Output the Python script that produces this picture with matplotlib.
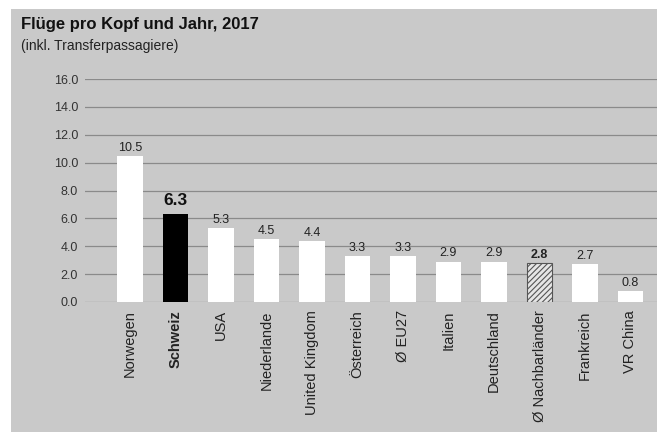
import matplotlib
matplotlib.use('Agg')
import matplotlib.pyplot as plt
from matplotlib.patches import Rectangle

plt.rcParams['font.family'] = ['Liberation Sans', 'DejaVu Sans']
plt.rcParams['hatch.color'] = '#555555'
plt.rcParams['hatch.linewidth'] = 0.8

countries = ['Norwegen', 'Schweiz', 'USA', 'Niederlande', 'United Kingdom',
             'Österreich', 'Ø EU27', 'Italien', 'Deutschland', 'Ø Nachbarländer',
             'Frankreich', 'VR China']
flights = [10.5, 6.3, 5.3, 4.5, 4.4, 3.3, 3.3, 2.9, 2.9, 2.8, 2.7, 0.8]
yticks = [0, 2, 4, 6, 8, 10, 12, 14, 16]

bg = '#c9c9c9'
fig = plt.figure(figsize=(6.57, 4.32), dpi=100)
fig.patch.set_facecolor('white')
fig.patches.append(Rectangle((11 / 657, 0), 1, (432 - 9) / 432,
                             transform=fig.transFigure, facecolor=bg,
                             edgecolor='none', zorder=-5))

ax = fig.add_axes([85 / 657, 130 / 432, 572 / 657, 223 / 432])
ax.set_facecolor('none')

x = list(range(len(countries)))
colors = ['white'] * len(countries)
colors[1] = 'black'
bars = ax.bar(x, flights, width=0.55, color=colors, zorder=3)
nb = bars[9]
nb.set_facecolor('#e6e6e6')
nb.set_hatch('//////')
nb.set_edgecolor('#555555')
nb.set_linewidth(0.8)

for i, v in enumerate(flights):
    if i == 1:
        ax.text(i, v + 0.45, f'{v:.1f}', ha='center', va='bottom',
                fontsize=12.5, fontweight='bold', color='#111111')
    else:
        ax.text(i, v + 0.15, f'{v:.1f}', ha='center', va='bottom',
                fontsize=9, color='#222222',
                fontweight='bold' if i == 9 else 'normal')

ax.set_xlim((85 - 130) / 45.5, (657 - 130) / 45.5)
ax.set_ylim(0, 16)
ax.set_yticks(yticks)
ax.set_yticklabels([f'{t:.1f}' for t in yticks], fontsize=9, color='#333333')
ax.set_xticks(x)
ax.set_xticklabels(countries, rotation=90, fontsize=10.5, color='#222222')
ax.get_xticklabels()[1].set_fontweight('bold')
ax.tick_params(axis='both', length=0)
ax.tick_params(axis='y', pad=5)
ax.tick_params(axis='x', pad=6)
ax.grid(axis='y', color='#8a8a8a', linewidth=0.9, zorder=1)
ax.set_axisbelow(True)
for s in ax.spines.values():
    s.set_visible(False)

fig.text(21 / 657, 1 - 29 / 432, 'Flüge pro Kopf und Jahr, 2017',
         fontsize=12, fontweight='bold', color='#111111', va='baseline')
fig.text(21 / 657, 1 - 50 / 432, '(inkl. Transferpassagiere)',
         fontsize=10, color='#222222', va='baseline')

fig.savefig('out.png', dpi=100, facecolor=fig.get_facecolor())
